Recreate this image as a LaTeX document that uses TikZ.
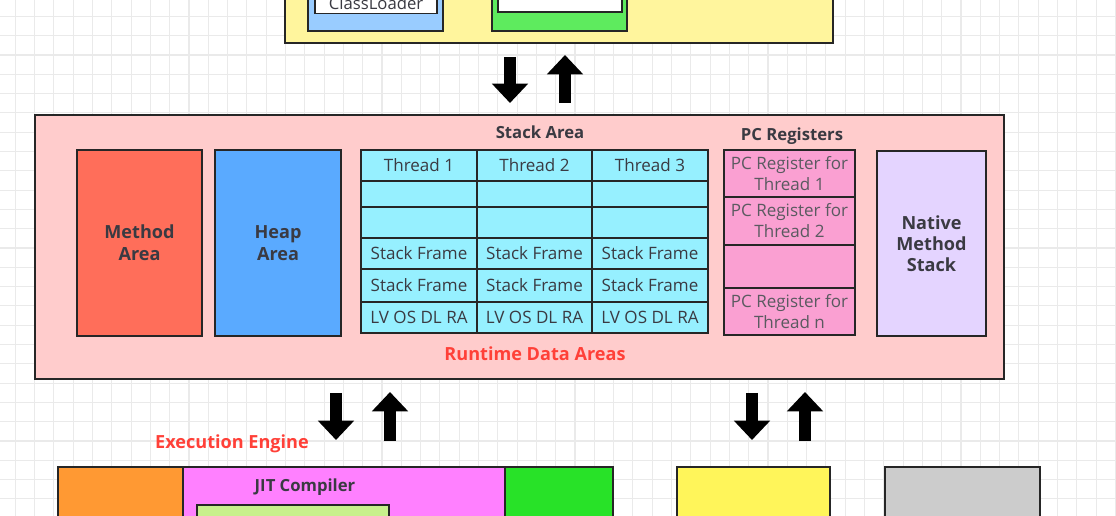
\documentclass[tikz,border=0pt]{standalone}
\usepackage{fontspec}
\setmainfont{Open Sans}
\definecolor{jvmyellow}{RGB}{255,245,157}
\definecolor{jvmloader}{RGB}{153,204,255}
\definecolor{jvmlink}{RGB}{94,235,94}
\definecolor{jvmpink}{RGB}{255,204,204}
\definecolor{jvmmethod}{RGB}{255,110,90}
\definecolor{jvmheap}{RGB}{90,170,255}
\definecolor{jvmcyan}{RGB}{150,240,255}
\definecolor{jvmpc}{RGB}{250,160,210}
\definecolor{jvmnative}{RGB}{228,212,255}
\definecolor{jvmorange}{RGB}{255,153,51}
\definecolor{jvmjit}{RGB}{255,128,255}
\definecolor{jvmgreen}{RGB}{40,226,40}
\definecolor{jvmlime}{RGB}{200,240,140}
\definecolor{jvminterp}{RGB}{255,245,90}
\definecolor{jvmgray}{RGB}{204,204,204}
\definecolor{jvmtext}{RGB}{58,58,66}
\definecolor{jvmsoft}{RGB}{90,90,96}
\definecolor{jvmred}{RGB}{255,64,56}
\definecolor{jvmgrid}{RGB}{234,234,234}
\usetikzlibrary{arrows.meta}
\tikzset{
  sized/.style 2 args={minimum width=#1*0.02cm,minimum height=#2*0.02cm},
  area/.style={draw=black!85,line width=1.1pt,inner sep=0pt,align=center,
    font=\bfseries\fontsize{10.3}{12.3}\selectfont,text=jvmtext},
  cell/.style={draw=black!85,line width=1.1pt,inner sep=0pt,fill=jvmcyan,
    font=\fontsize{9.7}{11}\selectfont,text=jvmtext},
  pcbox/.style={draw=black!85,line width=1.1pt,inner sep=0pt,fill=jvmpc,align=center,
    font=\fontsize{9.7}{12}\selectfont,text=jvmsoft},
  bigarrow/.style={line width=6.8pt,-{Triangle[width=20pt,length=11pt]}},
  title/.style={font=\bfseries\fontsize{9.5}{11}\selectfont,text=jvmtext},
  redtitle/.style={font=\bfseries\fontsize{10.3}{12}\selectfont,text=jvmred},
}
\begin{document}
\begin{tikzpicture}[x=0.02cm,y=-0.02cm]
  \clip (0,0) rectangle (1116,516);
  \fill[white] (0,0) rectangle (1116,516);
  % grid
  \foreach \g in {0,...,57}{
    \draw[jvmgrid,line width=0.6pt] (15.3+\g*19.3,0) -- ++(0,516);
  }
  \foreach \g in {0,...,26}{
    \draw[jvmgrid,line width=0.6pt] (0,16.4+\g*19.3) -- ++(1116,0);
  }

  % class loader subsystem (cut at the top)
  \node[area,fill=jvmyellow,sized={548}{63}] (loadsys) at (559,11.5) {};
  \node[area,fill=jvmloader,sized={135}{51}] (loadblue) at (375.5,5.5) {};
  \node[area,fill=white,font=\fontsize{9.5}{11}\selectfont,sized={122}{20}] (loadwhite) at (376,3.5) {ClassLoader};
  \node[area,fill=jvmlink,sized={135}{51}] (linkgreen) at (559.5,5.5) {};
  \node[area,fill=white,sized={124}{32}] (linkwhite) at (560,-4) {};

  \coordinate (topdn-a) at (510,57);  \coordinate (topdn-b) at (510,103);
  \coordinate (topup-a) at (565,103); \coordinate (topup-b) at (565,55);
  \draw[bigarrow] (topdn-a) -- (topdn-b);
  \draw[bigarrow] (topup-a) -- (topup-b);

  % runtime data areas
  \node[area,fill=jvmpink,sized={969}{264}] (rda) at (519.5,247) {};
  \node[area,fill=jvmmethod,sized={125}{186}] (method) at (139.5,243) {Method\\Area};
  \node[area,fill=jvmheap,sized={126}{186}] (heap) at (278,243) {Heap\\Area};
  \node[title] (stacklbl) at (540,132) {Stack Area};
  \foreach \c/\cx/\w in {1/419/116,2/534.5/115,3/650/116}{
    \foreach \r/\cy/\h/\txt in {1/165.5/31/{Thread \c},2/194/26/{},3/222.5/31/{},
        4/253.5/31/{Stack Frame},5/285.5/33/{Stack Frame},6/317.5/31/{LV OS DL RA}}{
      \node[cell,sized={\w}{\h}] (stack-\c-\r) at (\cx,\cy) {\txt};
    }
  }
  \node[title] (pclbl) at (792,136) {PC Registers};
  \foreach \r/\cy/\h/\txt in {1/173.5/47/{PC Register for\\Thread 1},2/221/48/{PC Register for\\Thread 2},
      3/266.5/43/{},4/311.5/47/{PC Register for\\Thread n}}{
    \node[pcbox,sized={131}{\h}] (pc-\r) at (789.5,\cy) {\txt};
  }
  \node[area,fill=jvmnative,font=\bfseries\fontsize{10.3}{12}\selectfont,sized={109}{185}] (native) at (931.5,243.5) {Native\\Method\\Stack};
  \node[redtitle] (rdalbl) at (535,354) {Runtime Data Areas};

  \coordinate (lfdn-a) at (336,393);  \coordinate (lfdn-b) at (336,440);
  \coordinate (lfup-a) at (390,441);  \coordinate (lfup-b) at (390,392);
  \coordinate (rtdn-a) at (752,393);  \coordinate (rtdn-b) at (752,440);
  \coordinate (rtup-a) at (805,441);  \coordinate (rtup-b) at (805,392);
  \draw[bigarrow] (lfdn-a) -- (lfdn-b);
  \draw[bigarrow] (lfup-a) -- (lfup-b);
  \draw[bigarrow] (rtdn-a) -- (rtdn-b);
  \draw[bigarrow] (rtup-a) -- (rtup-b);

  % execution engine (cut at the bottom)
  \node[redtitle] (englbl) at (232,444) {Execution Engine};
  \node[area,fill=jvmorange,sized={125}{73}] (interp) at (120.5,503.5) {};
  \node[area,fill=jvmjit,sized={322}{73}] (jit) at (344,503.5) {};
  \node[area,fill=jvmgreen,sized={108}{73}] (gc) at (559,503.5) {};
  \node[title] (jitlbl) at (305,487) {JIT Compiler};
  \node[area,fill=jvmlime,sized={192}{35}] (jitinner) at (293,522.5) {};
  \node[area,fill=jvminterp,sized={153}{73}] (jni) at (753.5,503.5) {};
  \node[area,fill=jvmgray,sized={155}{73}] (natlib) at (962.5,503.5) {};
\end{tikzpicture}
\end{document}
